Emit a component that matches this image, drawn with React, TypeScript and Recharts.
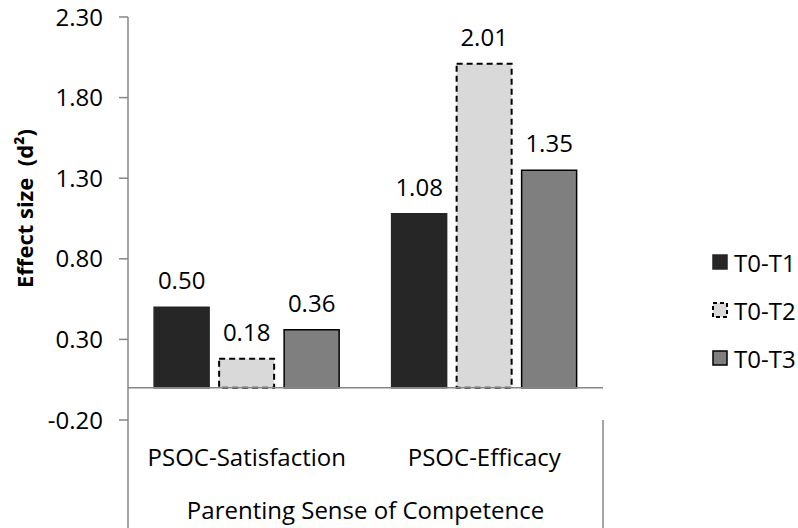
import React from 'react';
import { BarChart, Bar, XAxis, YAxis, LabelList, ReferenceLine, Legend } from 'recharts';

// values
const CATEGORIES = ['PSOC-Satisfaction', 'PSOC-Efficacy'];
const T0_T1 = [0.5, 1.08];
const T0_T2 = [0.18, 2.01];
const T0_T3 = [0.36, 1.35];
const Y_TICKS = [-0.2, 0.3, 0.8, 1.3, 1.8, 2.3];
const GROUP_LABEL = 'Parenting Sense of Competence';
const Y_LABEL = 'Effect size\u00A0 (d²)';

const SERIES = [
  { key: 't1', name: 'T0-T1', fill: '#262626', stroke: '#262626', dash: undefined },
  { key: 't2', name: 'T0-T2', fill: '#d9d9d9', stroke: '#000000', dash: '6 4' },
  { key: 't3', name: 'T0-T3', fill: '#7f7f7f', stroke: '#000000', dash: undefined },
];

const data = CATEGORIES.map((name, i) => ({
  name,
  t1: T0_T1[i],
  t2: T0_T2[i],
  t3: T0_T3[i],
}));

const FONT = '"Open Sans", sans-serif';
const AXIS_COLOR = '#868686';

const CategoryTick = (props: any) => {
  const { x, y, payload } = props;
  return (
    <text x={x} y={y + 46} textAnchor="middle" fontFamily={FONT} fontSize={24} fill="#000">
      {payload.value}
    </text>
  );
};

const GroupLabel = (props: any) => {
  const vb = props.viewBox || {};
  const { x = 0, y = 0, width = 0, height = 0 } = vb;
  return (
    <g>
      <line x1={x} y1={y} x2={x} y2={y + height} stroke={AXIS_COLOR} strokeWidth={1.5} />
      <line x1={x + width} y1={y} x2={x + width} y2={y + height} stroke={AXIS_COLOR} strokeWidth={1.5} />
      <text x={x + width / 2} y={y + 99} textAnchor="middle" fontFamily={FONT} fontSize={24} fill="#000">
        {GROUP_LABEL}
      </text>
    </g>
  );
};

const YLabel = (props: any) => {
  const vb = props.viewBox || {};
  const cx = (vb.x || 0) + 24;
  const cy = (vb.y || 0) + (vb.height || 0) / 2 - 10;
  return (
    <text
      x={cx}
      y={cy}
      transform={`rotate(-90, ${cx}, ${cy})`}
      textAnchor="middle"
      dominantBaseline="central"
      fontFamily={FONT}
      fontSize={22}
      fontWeight="bold"
      fill="#000"
    >
      {Y_LABEL}
    </text>
  );
};

const LegendContent = () => (
  <div style={{ fontFamily: FONT, fontSize: 24, color: '#000' }}>
    {SERIES.map((s) => (
      <div key={s.key} style={{ display: 'flex', alignItems: 'center', height: 48 }}>
        <svg width={16} height={16} style={{ marginRight: 6 }}>
          <rect
            x={1}
            y={1}
            width={14}
            height={14}
            fill={s.fill}
            stroke={s.stroke}
            strokeWidth={s.dash ? 2 : 1.5}
            strokeDasharray={s.dash ? '4 3' : undefined}
          />
        </svg>
        <span>{s.name}</span>
      </div>
    ))}
  </div>
);

export default function App() {
  return (
    <div style={{ position: 'absolute', left: 0, top: 0, background: '#fff' }}>
      <BarChart
        width={798}
        height={528}
        data={data}
        margin={{ top: 17, right: 195, bottom: 0, left: 0 }}
        barCategoryGap="11%"
        barGap={10}
      >
        <XAxis
          dataKey="name"
          axisLine={false}
          tickLine={false}
          tickSize={0}
          tickMargin={0}
          height={108}
          tick={<CategoryTick />}
          label={GroupLabel}
          interval={0}
        />
        <YAxis
          width={128}
          domain={[-0.2, 2.3]}
          ticks={Y_TICKS}
          allowDataOverflow
          tickFormatter={(v: number) => v.toFixed(2)}
          axisLine={{ stroke: AXIS_COLOR, strokeWidth: 1.5 }}
          tickLine={{ stroke: AXIS_COLOR, strokeWidth: 1.5 }}
          tickSize={9}
          tickMargin={16}
          tick={{ fontFamily: FONT, fontSize: 24, fill: '#000' }}
          label={YLabel}
        />
        {SERIES.map((s) => (
          <Bar
            key={s.key}
            dataKey={s.key}
            name={s.name}
            fill={s.fill}
            stroke={s.stroke}
            strokeWidth={s.dash ? 2 : 1.5}
            strokeDasharray={s.dash}
            isAnimationActive={false}
          >
            <LabelList
              dataKey={s.key}
              position="top"
              offset={18}
              formatter={(v: any) => Number(v).toFixed(2)}
              style={{ fontFamily: FONT, fontSize: 24, fill: '#000' }}
            />
          </Bar>
        ))}
        <ReferenceLine y={0} stroke={AXIS_COLOR} strokeWidth={1.5} />
        <Legend
          layout="vertical"
          align="center"
          verticalAlign="middle"
          content={<LegendContent />}
          wrapperStyle={{ left: 712, top: 238, width: 86, height: 144 }}
        />
      </BarChart>
    </div>
  );
}
